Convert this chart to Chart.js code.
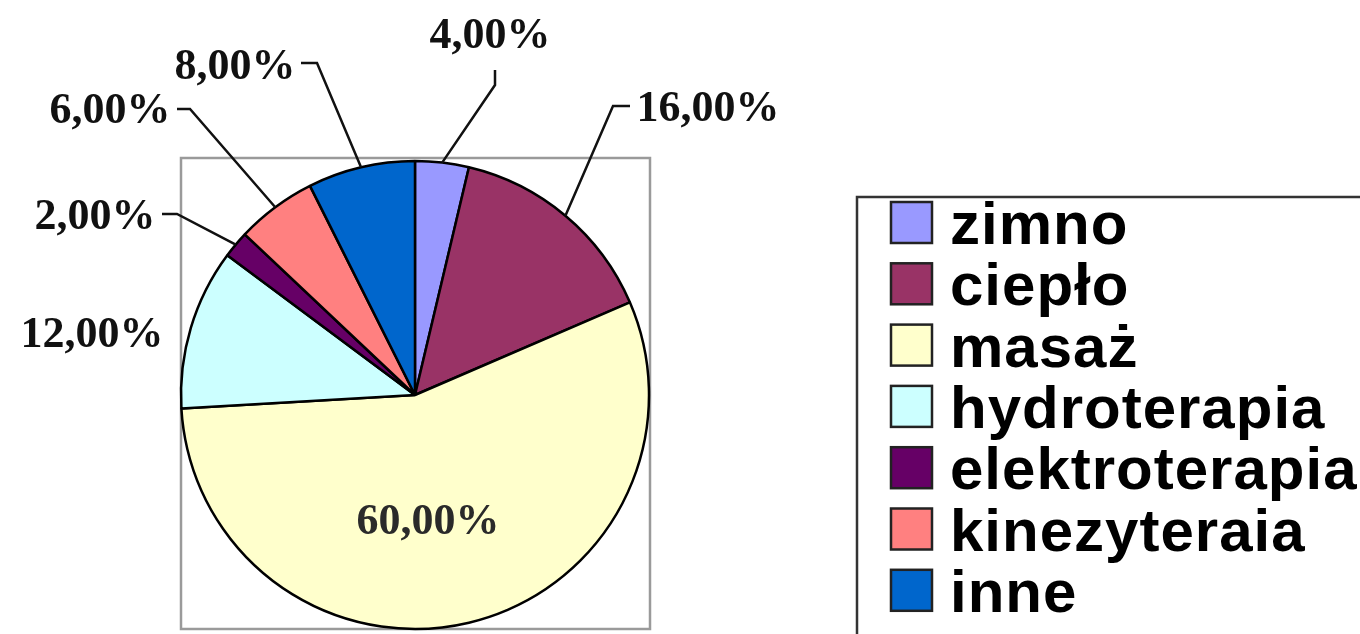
<!DOCTYPE html>
<html>
<head>
<meta charset="utf-8">
<script src="https://cdn.jsdelivr.net/npm/chart.js@4.4.1/dist/chart.umd.min.js"></script>
<style>
  html, body { margin: 0; padding: 0; background: #fff; }
  canvas { display: block; }
</style>
</head>
<body>
<canvas id="pie" width="1360" height="634"></canvas>
<script>
// data (the labels sum to 108, the slices are drawn proportionally)
var categories = ['zimno', 'ciepło', 'masaż', 'hydroterapia', 'elektroterapia', 'kinezyteraia', 'inne'];
var values     = [4, 16, 60, 12, 2, 6, 8];
var valueText  = ['4,00%', '16,00%', '60,00%', '12,00%', '2,00%', '6,00%', '8,00%'];
var colors     = ['#9999ff', '#993366', '#ffffcc', '#ccffff', '#660066', '#ff8080', '#0066cc'];

// where the value labels sit (text centre, and the elbow of the leader line)
var labelLayout = [
  { x: 490, y: 37,  tick: [495, 70],  elbow: [495, 85] },
  { x: 708, y: 110, tick: [630, 106], elbow: [613, 106] },
  { x: 428, y: 523 },
  { x: 92,  y: 336 },
  { x: 95,  y: 218, tick: [162, 214], elbow: [177, 214] },
  { x: 110, y: 112, tick: [177, 109], elbow: [190, 109] },
  { x: 235, y: 68,  tick: [301, 63],  elbow: [317, 63] }
];

var boxesPlugin = {
  id: 'boxes',
  beforeDatasetsDraw: function(chart) {
    var ctx = chart.ctx;
    var a = chart.chartArea;
    ctx.save();
    ctx.strokeStyle = '#9a9a9a';
    ctx.lineWidth = 2.5;
    ctx.strokeRect(a.left + 1, a.top - 2, a.right - a.left - 1, a.bottom - a.top + 1);
    ctx.restore();
  }
};

var labelsPlugin = {
  id: 'valueLabels',
  afterDatasetsDraw: function(chart) {
    var ctx  = chart.ctx;
    var arcs = chart.getDatasetMeta(0).data;
    ctx.save();
    ctx.font = 'bold 44px "Liberation Serif", "Times New Roman", serif';
    ctx.textAlign = 'center';
    ctx.textBaseline = 'middle';
    for (var i = 0; i < arcs.length; i++) {
      var arc = arcs[i];
      var p = labelLayout[i];
      if (p.elbow) {
        var mid = (arc.startAngle + arc.endAngle) / 2;
        var ex = arc.x + Math.cos(mid) * arc.outerRadius;
        var ey = arc.y + Math.sin(mid) * arc.outerRadius;
        ctx.strokeStyle = '#111';
        ctx.lineWidth = 2.5;
        ctx.beginPath();
        ctx.moveTo(ex, ey);
        ctx.lineTo(p.elbow[0], p.elbow[1]);
        ctx.lineTo(p.tick[0], p.tick[1]);
        ctx.stroke();
      }
      ctx.fillStyle = i == 2 ? '#2a2a2a' : '#111';
      ctx.fillText(valueText[i], p.x, p.y);
    }
    ctx.restore();
  }
};

var legendPlugin = {
  id: 'boxLegend',
  afterDraw: function(chart) {
    var ctx = chart.ctx;
    ctx.save();
    ctx.strokeStyle = '#333';
    ctx.lineWidth = 2.5;
    ctx.strokeRect(857, 197, 600, 500);
    ctx.font = 'bold 60px "Liberation Sans", Arial, sans-serif';
    ctx.letterSpacing = '1px';
    ctx.textAlign = 'left';
    ctx.textBaseline = 'alphabetic';
    for (var i = 0; i < categories.length; i++) {
      var top = 202 + i * 61.3;
      ctx.fillStyle = colors[i];
      ctx.fillRect(891, top, 41, 41);
      ctx.strokeStyle = '#222';
      ctx.lineWidth = 2.5;
      ctx.strokeRect(891, top, 41, 41);
      ctx.fillStyle = '#000';
      ctx.fillText(categories[i], 950, top + 42);
    }
    ctx.restore();
  }
};

var myChart = new Chart(document.getElementById('pie'), {
  type: 'pie',
  data: {
    labels: categories,
    datasets: [{
      data: values,
      backgroundColor: colors,
      borderColor: '#000',
      borderWidth: 2.5
    }]
  },
  options: {
    responsive: false,
    animation: false,
    radius: 234,
    layout: { padding: { left: 180, right: 710, top: 160, bottom: 4 } },
    plugins: {
      legend: { display: false },
      tooltip: { enabled: false }
    }
  },
  plugins: [boxesPlugin, labelsPlugin, legendPlugin]
});
</script>
</body>
</html>
